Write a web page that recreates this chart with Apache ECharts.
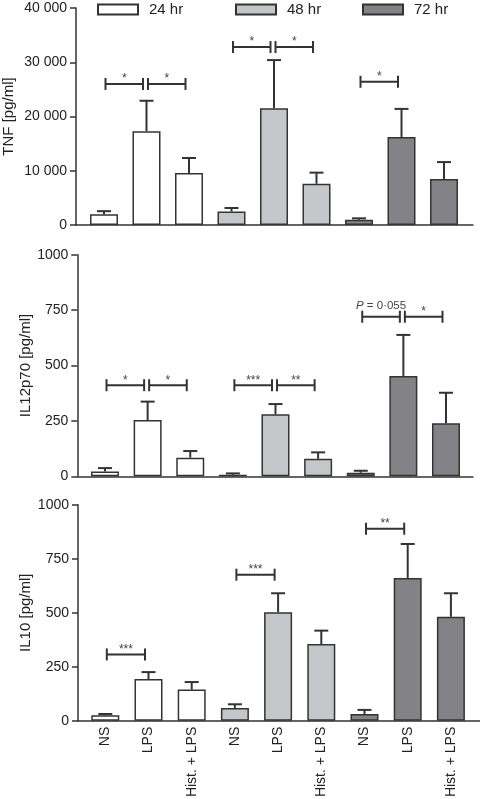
<!DOCTYPE html>
<html>
<head>
<meta charset="utf-8">
<script src="https://cdn.jsdelivr.net/npm/echarts@6/dist/echarts.min.js"></script>
<style>
html,body{margin:0;padding:0;background:#fff;}
#chart{width:480px;height:799px;}
</style>
</head>
<body>
<div id="chart"></div>
<script>
// ---- data ----
const categories = ['NS', 'LPS', 'Hist. + LPS', 'NS', 'LPS', 'Hist. + LPS', 'NS', 'LPS', 'Hist. + LPS'];
const timeGroups = ['24 hr', '48 hr', '72 hr'];
const groupOfBar = [0, 0, 0, 1, 1, 1, 2, 2, 2];

const tnfMean  = [1970, 17300, 9600, 2500, 21500, 7600, 980, 16200, 8500];
const tnfUpper = [2550, 22900, 12350, 3130, 30400, 9650, 1230, 21400, 11600];
const il12Mean  = [22, 254, 84, 7, 280, 79, 16, 453, 239];
const il12Upper = [37, 337, 114, 13, 326, 108, 25, 638, 377];
const il10Mean  = [25, 193, 144, 59, 502, 355, 31, 661, 481];
const il10Upper = [31, 225, 179, 76, 590, 417, 50, 818, 590];

// [from category, to category, bracket height (data units), label]
const tnfBrackets  = [[0, 1, 26000, '*'], [1, 2, 26000, '*'], [3, 4, 32800, '*'], [4, 5, 32800, '*'], [6, 7, 26400, '*']];
const il12Brackets = [[0, 1, 411, '*'], [1, 2, 411, '*'], [3, 4, 411, '***'], [4, 5, 411, '**'], [6, 7, 720, 'P = 0·055'], [7, 8, 720, '*']];
const il10Brackets = [[0, 1, 307, '***'], [3, 4, 676, '***'], [6, 7, 889, '**']];

const tnfTicks = ['0', '10 000', '20 000', '30 000', '40 000'];
const ilTicks = ['0', '250', '500', '750', '1000'];

// ---- styling / layout ----
const FONT = '"Liberation Sans", Arial, Helvetica, sans-serif';
const fills = ['#ffffff', '#c5c6c9', '#838287'];
const ink = '#333333';
const txt = '#222222';

const panels = [
  { mean: tnfMean, upper: tnfUpper, brackets: tnfBrackets, ticks: tnfTicks, name: 'TNF [pg/ml]', max: 40000, interval: 10000,
    top: 8, height: 217, axisX: 76, barLeft: 82.75, barSpan: 382.5, right: 473, nameGap: 60 },
  { mean: il12Mean, upper: il12Upper, brackets: il12Brackets, ticks: ilTicks, name: 'IL12p70 [pg/ml]', max: 1000, interval: 250,
    top: 254.7, height: 221.6, axisX: 77.3, barLeft: 83.7, barSpan: 383.6, right: 473, nameGap: 44 },
  { mean: il10Mean, upper: il10Upper, brackets: il10Brackets, ticks: ilTicks, name: 'IL10 [pg/ml]', max: 1000, interval: 250,
    top: 504.7, height: 216, axisX: 78, barLeft: 83.7, barSpan: 388.8, right: 480, nameGap: 45 }
];

const grid = [], xAxis = [], yAxis = [], series = [];

panels.forEach((p, i) => {
  grid.push({ left: p.barLeft, top: p.top, width: p.barSpan, height: p.height, containLabel: false, outerBoundsMode: 'none' });
  grid.push({ left: p.axisX, top: p.top, width: p.right - p.axisX, height: p.height, containLabel: false, outerBoundsMode: 'none' });

  xAxis.push({
    type: 'category', gridIndex: 2 * i, data: categories,
    axisLine: { show: false }, axisTick: { show: false },
    axisLabel: { show: i === 2, rotate: 90, fontSize: 14, color: txt, margin: 6, fontFamily: FONT, interval: 0 }
  });
  xAxis.push({
    type: 'value', gridIndex: 2 * i + 1, min: 0, max: 1,
    axisLine: { show: true, lineStyle: { color: ink, width: 1.5 } },
    axisTick: { show: false }, axisLabel: { show: false }, splitLine: { show: false }
  });

  yAxis.push({
    type: 'value', gridIndex: 2 * i, min: 0, max: p.max, interval: p.interval,
    offset: p.barLeft - p.axisX,
    axisLine: { show: true, lineStyle: { color: ink, width: 1.5 } },
    axisTick: { show: true, length: 6, lineStyle: { color: ink, width: 1.5 } },
    axisLabel: { fontSize: 14, color: txt, margin: 9, fontFamily: FONT,
      formatter: (v) => p.ticks[Math.round(v / p.interval)] },
    splitLine: { show: false },
    name: p.name, nameLocation: 'middle', nameGap: p.nameGap, nameMoveOverlap: false,
    nameTextStyle: { fontSize: 15, color: txt, fontFamily: FONT }
  });
  yAxis.push({ type: 'value', gridIndex: 2 * i + 1, min: 0, max: 1, show: false });

  timeGroups.forEach((g, gi) => {
    series.push({
      type: 'bar', name: g, xAxisIndex: 2 * i, yAxisIndex: 2 * i,
      barWidth: 28, barGap: '-100%',
      data: p.mean.map((v, c) => groupOfBar[c] === gi ? v : '-'),
      itemStyle: { color: fills[gi], borderColor: ink, borderWidth: 1.5 },
      emphasis: { disabled: true }, silent: true, z: 2
    });
  });

  series.push({
    type: 'custom', xAxisIndex: 2 * i, yAxisIndex: 2 * i, z: 3, silent: true,
    encode: { x: 0, y: [1, 2] },
    data: p.mean.map((v, c) => [c, v, p.upper[c]]),
    renderItem: (params, api) => {
      const x = api.value(0);
      const a = api.coord([x, api.value(1)]);
      const b = api.coord([x, api.value(2)]);
      const st = { stroke: ink, lineWidth: 2 };
      return { type: 'group', children: [
        { type: 'line', shape: { x1: a[0], y1: a[1], x2: b[0], y2: b[1] }, style: st },
        { type: 'line', shape: { x1: b[0] - 7, y1: b[1], x2: b[0] + 7, y2: b[1] }, style: st }
      ] };
    }
  });

  series.push({
    type: 'custom', xAxisIndex: 2 * i, yAxisIndex: 2 * i, z: 4, silent: true,
    encode: { x: [0, 1], y: 2 },
    data: p.brackets.map(b => [b[0], b[1], b[2]]),
    renderItem: (params, api) => {
      const a = api.coord([api.value(0), api.value(2)]);
      const b = api.coord([api.value(1), api.value(2)]);
      const xa = a[0] + 1.5, xb = b[0] - 3.5, y = a[1];
      const label = p.brackets[params.dataIndex][3];
      const st = { stroke: ink, lineWidth: 2 };
      const isP = label.charAt(0) === 'P';
      const textEl = isP ? {
        type: 'text', x: (xa + xb) / 2, y: y - 5,
        style: { text: '{i|P}' + label.slice(1), align: 'center', verticalAlign: 'bottom',
          fontSize: 11.5, fontFamily: FONT, fill: '#444',
          rich: { i: { fontStyle: 'italic', fontSize: 11.5, fontFamily: FONT, fill: '#444' } } }
      } : {
        type: 'text', x: (xa + xb) / 2, y: y + 1,
        style: { text: label, align: 'center', verticalAlign: 'bottom', fontSize: 12, fontFamily: FONT, fill: '#444' }
      };
      return { type: 'group', children: [
        { type: 'line', shape: { x1: xa, y1: y, x2: xb, y2: y }, style: st },
        { type: 'line', shape: { x1: xa, y1: y - 6, x2: xa, y2: y + 6 }, style: st },
        { type: 'line', shape: { x1: xb, y1: y - 6, x2: xb, y2: y + 6 }, style: st },
        textEl
      ] };
    }
  });
});

const legendLefts = [97, 235, 362];
const legend = timeGroups.map((g, gi) => ({
  data: [{ name: g, icon: 'rect' }], left: legendLefts[gi], top: 2, itemWidth: 40, itemHeight: 10,
  selectedMode: false, padding: 0,
  textStyle: { fontSize: 15, color: txt, fontFamily: FONT, padding: [0, 0, 0, 6] }
}));

const chart = echarts.init(document.getElementById('chart'), null, { renderer: 'canvas' });
chart.setOption({ animation: false, backgroundColor: '#fff', grid, xAxis, yAxis, series, legend });
</script>
</body>
</html>
